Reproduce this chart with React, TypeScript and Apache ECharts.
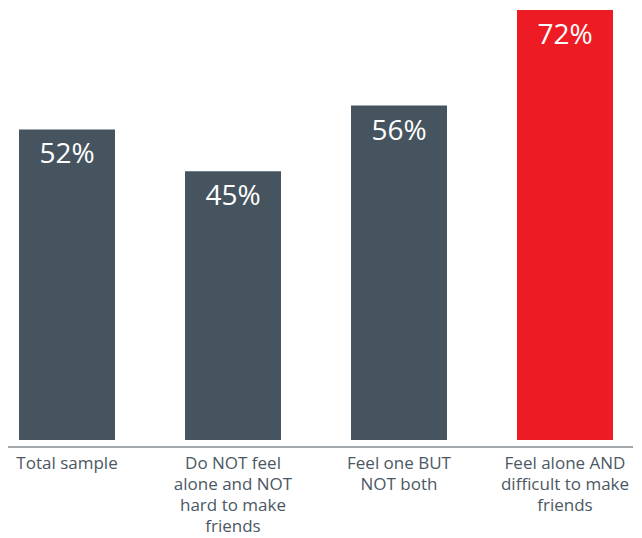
import React, { useEffect, useRef } from "react";
import * as echarts from "echarts";

const categories = [
  "Total sample",
  "Do NOT feel\nalone and NOT\nhard to make\nfriends",
  "Feel one BUT\nNOT both",
  "Feel alone AND\ndifficult to make\nfriends",
];
const values = [52, 45, 56, 72];
const barColors = ["#46545f", "#46545f", "#46545f", "#ed1c24"];

const SHIFT = 16;

export default function App() {
  const ref = useRef<HTMLDivElement>(null);
  useEffect(() => {
    const chart = echarts.init(ref.current!, null, { renderer: "svg" });
    chart.setOption({
      animation: false,
      backgroundColor: "#ffffff",
      grid: { left: 0, right: 0, top: 10, bottom: 98, containLabel: false },
      xAxis: {
        type: "category",
        data: categories,
        axisLine: { show: false },
        axisTick: { show: false },
        axisLabel: {
          interval: 0,
          margin: 12,
          color: "#4b5863",
          fontFamily: "Open Sans",
          fontSize: 17,
          lineHeight: 21,
          align: "center",
          verticalAlign: "top",
        },
      },
      yAxis: {
        type: "value",
        min: 0,
        max: 72,
        show: false,
        splitLine: { show: false },
      },
      graphic: [
        {
          type: "line",
          shape: { x1: 8 + SHIFT, y1: 447, x2: 633 + SHIFT, y2: 447 },
          style: { stroke: "#a3a8ac", lineWidth: 2 },
          silent: true,
        },
      ],
      series: [
        {
          type: "bar",
          barWidth: 96,
          data: values.map((v, i) => ({ value: v, itemStyle: { color: barColors[i] } })),
          label: {
            show: true,
            position: "insideTop",
            distance: 9,
            color: "#ffffff",
            fontFamily: "Open Sans",
            fontSize: 28,
            formatter: (p: any) => p.value + "%",
          },
        },
      ],
    });
    return () => chart.dispose();
  }, []);
  return (
    <div style={{ position: "fixed", left: 0, top: 0, width: 642, height: 538, overflow: "hidden", background: "#fff" }}>
      <div
        ref={ref}
        style={{ position: "absolute", left: -SHIFT, top: 0, width: 642 + SHIFT + 6, height: 538 }}
      />
    </div>
  );
}
